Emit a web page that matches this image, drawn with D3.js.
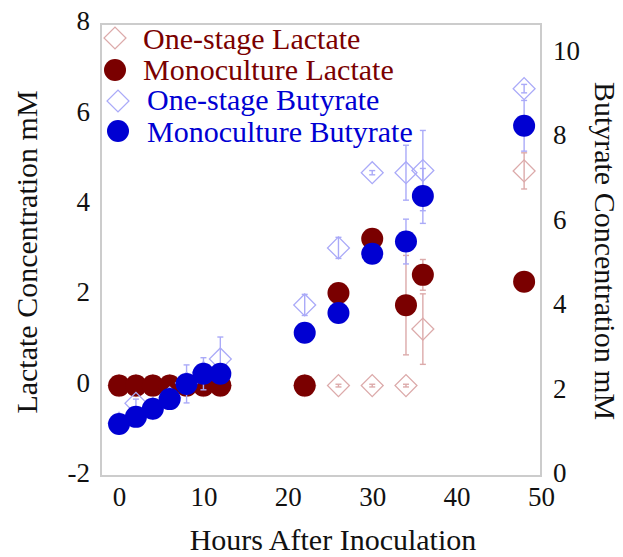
<!DOCTYPE html>
<html>
<head>
<meta charset="utf-8">
<script src="https://cdn.jsdelivr.net/npm/d3@7"></script>
<style>
  html, body { margin: 0; padding: 0; background: #fff; }
  svg { display: block; font-family: "Liberation Serif", "Times New Roman", serif; }
</style>
</head>
<body>
<div id="vis"></div>
<script>
// sampling times (hours after inoculation)
const hours = [0, 2, 4, 6, 8, 10, 12, 22, 26, 30, 34, 36, 48];

// lactate, mM (left axis)
const oneStageLactate    = [0, 0, 0, 0, 0, 0, 0, 0, 0, 0, 0, 1.25, 4.75];
const oneStageLactateErr = [0, 0, 0, 0, 0, 0, 0, 0, 0.03, 0.03, 0.03, 0.78, 0.4];
const monoLactate        = [0, 0, 0, 0, 0, 0, 0, 0, 2.05, 3.25, 1.78, 2.45, 2.3];
const monoLactateErr     = [0, 0, 0, 0, 0, 0, 0, 0, 0, 0, 1.1, 0.34, 0];

// butyrate, mM (right axis)
const oneStageButyrate    = [1.25, 1.72, 1.6, 1.85, 2.2, 2.45, 2.77, 4.05, 5.4, 7.18, 7.18, 7.23, 9.17];
const oneStageButyrateErr = [0, 0.1, 0, 0, 0, 0, 0.52, 0.25, 0.25, 0.05, 0.65, 0.95, 0.1];
const monoButyrate        = [1.23, 1.4, 1.59, 1.82, 2.18, 2.42, 2.42, 3.39, 3.86, 5.26, 5.55, 6.63, 8.29];
const monoButyrateErr     = [0, 0, 0, 0, 0.45, 0.38, 0, 0, 0, 0, 0.53, 0.65, 0.6];

const xTicks = [0, 10, 20, 30, 40, 50];
const leftTicks = [-2, 0, 2, 4, 6, 8];
const rightTicks = [0, 2, 4, 6, 8, 10];

const width = 623, height = 557;
const plotLeft = 101, plotRight = 541, plotTop = 24, plotBottom = 476;

const darkRed = "#7a0000", lightRed = "#dcaaaa";
const blue = "#0000d2", lightBlue = "#aaaaf8";

const svg = d3.select("#vis").append("svg")
  .attr("width", width)
  .attr("height", height);

const x = d3.scaleLinear().domain([-2.14, 50]).range([plotLeft, plotRight]);
const yL = d3.scaleLinear().domain([-2, 8]).range([plotBottom, plotTop]);
const yR = d3.scaleLinear().domain([0, 10.7]).range([plotBottom, plotTop]);

// frame
svg.append("rect")
  .attr("x", plotLeft).attr("y", plotTop)
  .attr("width", plotRight - plotLeft).attr("height", plotBottom - plotTop)
  .attr("fill", "none")
  .attr("stroke", "#cccccc")
  .attr("stroke-width", 2);

// axes (labels only, plain hyphen for negatives)
const plain = (d) => String(d);
const styleAxis = (g) => {
  g.select(".domain").remove();
  g.selectAll(".tick line").remove();
  g.selectAll("text")
    .attr("font-family", "'Liberation Serif', serif")
    .attr("font-size", 27)
    .attr("fill", "#111");
};

svg.append("g")
  .attr("transform", `translate(0,${plotBottom})`)
  .call(d3.axisBottom(x).tickValues(xTicks).tickFormat(plain).tickSize(0).tickPadding(11))
  .call(styleAxis);

svg.append("g")
  .attr("transform", `translate(${plotLeft - 11},-3)`)
  .call(d3.axisLeft(yL).tickValues(leftTicks).tickFormat(plain).tickSize(0).tickPadding(0))
  .call(styleAxis);

svg.append("g")
  .attr("transform", `translate(${plotRight + 12},-3)`)
  .call(d3.axisRight(yR).tickValues(rightTicks).tickFormat(plain).tickSize(0).tickPadding(0))
  .call(styleAxis);

// axis titles
svg.append("text")
  .attr("x", 333)
  .attr("y", 550)
  .attr("text-anchor", "middle")
  .attr("font-size", 30)
  .attr("fill", "#111")
  .text("Hours After Inoculation");

svg.append("text")
  .attr("transform", `translate(37,252) rotate(-90)`)
  .attr("text-anchor", "middle")
  .attr("font-size", 30)
  .attr("fill", "#111")
  .text("Lactate Concentration mM");

svg.append("text")
  .attr("transform", `translate(595,251) rotate(90)`)
  .attr("text-anchor", "middle")
  .attr("font-size", 30)
  .attr("fill", "#111")
  .text("Butyrate Concentration mM");

const diamond = d3.symbol().type(d3.symbolSquare).size(240);

function drawSeries(values, errs, y, kind, fill, stroke) {
  const data = hours.map((h, i) => ({ h, v: values[i], e: errs[i] }));
  const g = svg.append("g");

  const eb = g.selectAll(".err")
    .data(data.filter((d) => d.e > 0))
    .join("g")
    .attr("stroke", stroke)
    .attr("stroke-width", 1.4);
  eb.append("line")
    .attr("x1", (d) => x(d.h)).attr("x2", (d) => x(d.h))
    .attr("y1", (d) => y(d.v - d.e)).attr("y2", (d) => y(d.v + d.e));
  eb.append("line")
    .attr("x1", (d) => x(d.h) - 3).attr("x2", (d) => x(d.h) + 3)
    .attr("y1", (d) => y(d.v - d.e)).attr("y2", (d) => y(d.v - d.e));
  eb.append("line")
    .attr("x1", (d) => x(d.h) - 3).attr("x2", (d) => x(d.h) + 3)
    .attr("y1", (d) => y(d.v + d.e)).attr("y2", (d) => y(d.v + d.e));

  if (kind === "diamond") {
    g.selectAll(".pt")
      .data(data)
      .join("path")
      .attr("d", diamond)
      .attr("transform", (d) => `translate(${x(d.h)},${y(d.v)}) rotate(45)`)
      .attr("fill", "none")
      .attr("stroke", stroke)
      .attr("stroke-width", 1.3);
  } else {
    g.selectAll(".pt")
      .data(data)
      .join("circle")
      .attr("cx", (d) => x(d.h))
      .attr("cy", (d) => y(d.v))
      .attr("r", 11)
      .attr("fill", fill);
  }
}

drawSeries(oneStageLactate, oneStageLactateErr, yL, "diamond", "none", lightRed);
drawSeries(monoLactate, monoLactateErr, yL, "circle", darkRed, lightRed);
drawSeries(oneStageButyrate, oneStageButyrateErr, yR, "diamond", "none", lightBlue);
drawSeries(monoButyrate, monoButyrateErr, yR, "circle", blue, lightBlue);

// legend
const legendItems = [
  { name: "One-stage Lactate", kind: "diamond", color: darkRed, light: lightRed, mx: 115, my: 38, tx: 143, ty: 49 },
  { name: "Monoculture Lactate", kind: "circle", color: darkRed, light: lightRed, mx: 115, my: 70, tx: 143, ty: 80 },
  { name: "One-stage Butyrate", kind: "diamond", color: blue, light: lightBlue, mx: 118, my: 101, tx: 147, ty: 110 },
  { name: "Monoculture Butyrate", kind: "circle", color: blue, light: lightBlue, mx: 118, my: 131, tx: 147, ty: 142 }
];

const legend = svg.append("g").selectAll("g")
  .data(legendItems)
  .join("g");

legend.filter((d) => d.kind === "diamond")
  .append("path")
  .attr("d", diamond)
  .attr("transform", (d) => `translate(${d.mx},${d.my}) rotate(45)`)
  .attr("fill", "none")
  .attr("stroke", (d) => d.light)
  .attr("stroke-width", 1.3);

legend.filter((d) => d.kind === "circle")
  .append("circle")
  .attr("cx", (d) => d.mx)
  .attr("cy", (d) => d.my)
  .attr("r", 11)
  .attr("fill", (d) => d.color);

legend.append("text")
  .attr("x", (d) => d.tx)
  .attr("y", (d) => d.ty)
  .attr("font-size", 30)
  .attr("fill", (d) => d.color)
  .text((d) => d.name);
</script>
</body>
</html>
